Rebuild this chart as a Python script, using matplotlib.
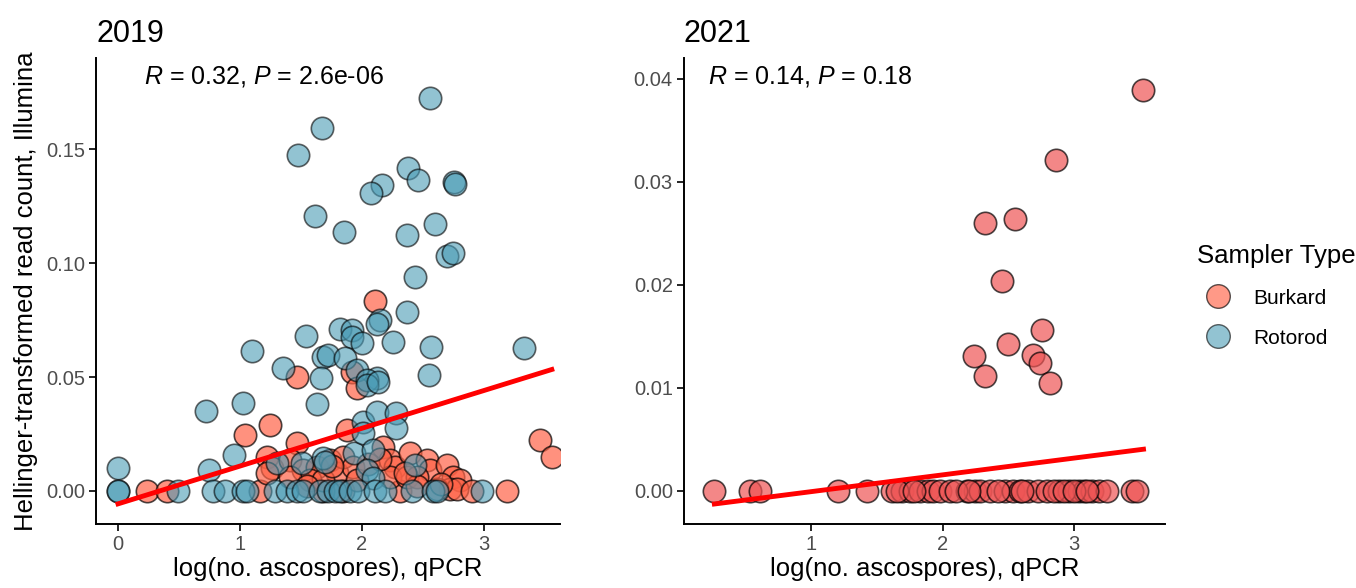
import matplotlib
matplotlib.use('Agg')
import matplotlib.pyplot as plt
from matplotlib.lines import Line2D

plt.rcParams['font.family'] = ['Liberation Sans', 'DejaVu Sans']
plt.rcParams['mathtext.fontset'] = 'custom'
plt.rcParams['mathtext.rm'] = 'Liberation Sans'
plt.rcParams['mathtext.it'] = 'Liberation Sans:italic'

# ---- 2019 panel ----
rot19_x = [2.56, 1.675, 1.475, 2.374, 2.461, 2.16, 2.074, 2.75, 2.76, 1.617,
           1.852, 2.366, 2.598, 2.694, 2.748, 2.434, 2.371, 2.148, 2.12, 1.541,
           1.82, 1.915, 1.915, 1.997, 2.25, 2.563, 3.33, 1.10, 1.35, 1.683,
           1.724, 1.86, 1.66, 1.956, 2.125, 2.04, 2.55,
           0.0, 0.721, 1.027, 1.634, 0.953, 0.746, 1.30, 1.505, 1.68, 1.70,
           1.93, 2.01, 2.01, 2.12, 2.28, 2.28, 2.09, 2.04, 2.09, 2.434,
           2.04, 2.13,
           0.0, 0.0, 0.495, 0.781, 0.877, 1.027, 1.055, 1.287, 1.383, 1.464,
           1.519, 1.656, 1.724, 1.779, 1.820, 1.902, 1.970, 2.107, 2.189,
           2.407, 2.585, 2.612, 2.981]
rot19_y = [0.1727, 0.1594, 0.1477, 0.1418, 0.1367, 0.1345, 0.1306, 0.1357, 0.1346, 0.1206,
           0.1135, 0.1123, 0.117, 0.1031, 0.1045, 0.094, 0.0786, 0.075, 0.0732, 0.068,
           0.0713, 0.0706, 0.0674, 0.0648, 0.0655, 0.063, 0.0629, 0.0614, 0.0541, 0.0589,
           0.0596, 0.0582, 0.0494, 0.0531, 0.0494, 0.0487, 0.0509,
           0.0100, 0.0351, 0.0387, 0.038, 0.0158, 0.0092, 0.0121, 0.0121, 0.0143, 0.0129,
           0.0165, 0.0304, 0.0253, 0.0348, 0.0341, 0.0275, 0.018, 0.0092, 0.0056, 0.0114,
           0.0465, 0.048,
           0.0, 0.0, 0.0, 0.0, 0.0, 0.0, 0.0, 0.0, 0.0, 0.0,
           0.0, 0.0, 0.0, 0.0, 0.0, 0.0, 0.0, 0.0, 0.0,
           0.0, 0.0, 0.0, 0.0]

burk19_x = [2.107, 1.465, 1.915, 0.235, 0.399, 1.041, 1.246, 1.465, 1.874, 1.956,
            3.459, 3.555, 3.186,
            1.219, 1.259, 1.41, 1.519, 1.628, 1.738, 1.792, 1.847, 1.929, 2.175,
            2.23, 2.27, 2.393, 2.53, 2.557, 2.694, 2.748, 2.803, 2.72, 2.776,
            2.612, 2.31, 1.847, 1.683, 1.164, 1.574, 1.683, 1.957, 2.23, 2.366,
            2.448, 1.219, 1.41, 2.05, 2.15, 2.45, 2.65, 1.55, 1.75, 2.35, 2.9]
burk19_y = [0.0835, 0.0501, 0.0523, 0.0, 0.0, 0.0246, 0.029, 0.0209, 0.0268, 0.045,
            0.0224, 0.015, 0.0,
            0.0150, 0.0100, 0.0136, 0.0092, 0.0107, 0.0136, 0.0078, 0.0150, 0.0107, 0.0194,
            0.0136, 0.0107, 0.0165, 0.0136, 0.0092, 0.0114, 0.0063, 0.0048, 0.001, 0.001,
            0.001, 0.0, 0.0, 0.0, 0.0, 0.0048, 0.0048, 0.0048, 0.0063, 0.0063,
            0.0063, 0.0078, 0.0063, 0.012, 0.014, 0.002, 0.003, 0.002, 0.011, 0.008, 0.0]

fit19 = (-0.0057, 0.0166)   # intercept, slope
fit19_range = (0.0, 3.555)

# ---- 2021 panel ----
burk21_x = [3.527, 2.863, 2.321, 2.551, 2.452, 2.757, 2.5, 2.242, 2.323, 2.69,
            2.741, 2.817,
            0.265, 0.536, 0.612, 1.208, 1.424, 1.614, 1.690, 1.753, 1.829, 1.892,
            1.930, 1.981, 2.057, 2.184, 2.247, 2.285, 2.361, 2.475, 2.538, 2.589,
            2.652, 2.728, 2.792, 2.881, 2.957, 3.033, 3.071, 3.135, 3.185, 3.249,
            3.439, 3.48, 1.65, 1.78, 2.1, 2.2, 2.42, 2.6, 2.85, 2.92, 3.0, 3.1]
burk21_y = [0.0389, 0.0321, 0.026, 0.0264, 0.0204, 0.0156, 0.0143, 0.0131, 0.0112, 0.0132,
            0.0124, 0.0105] + [0.0] * 42

fit21 = (-0.0017, 0.00163)
fit21_range = (0.265, 3.527)

fig = plt.figure(figsize=(13.56, 5.88), dpi=100)
ax1 = fig.add_axes([0.0708, 0.109, 0.342, 0.792])
ax2 = fig.add_axes([0.5044, 0.109, 0.3547, 0.792])

burk_col = '#FF6347'
burk21_col = '#EE5555'
rot_col = '#4A9BB5'
edge = (0, 0, 0, 0.75)
size = 260


def style(ax):
    for s in ['top', 'right']:
        ax.spines[s].set_visible(False)
    for s in ['left', 'bottom']:
        ax.spines[s].set_linewidth(1.4)
    ax.tick_params(labelsize=14.5, labelcolor='#4D4D4D', length=5, width=1.2,
                   color='black', pad=3)
    ax.set_xlabel('log(no. ascospores), qPCR', fontsize=18.5, labelpad=2)


# 2019
ax1.scatter(burk19_x, burk19_y, s=size, c=burk_col, alpha=0.7,
            edgecolors=edge, linewidths=1.2, zorder=2)
ax1.scatter(rot19_x, rot19_y, s=size, c=rot_col, alpha=0.6,
            edgecolors=edge, linewidths=1.2, zorder=3)
xs = list(fit19_range)
ax1.plot(xs, [fit19[0] + fit19[1] * v for v in xs], color='red', lw=3.5, zorder=4)
ax1.set_xlim(-0.18, 3.62)
ax1.set_ylim(-0.0145, 0.19)
ax1.set_xticks([0, 1, 2, 3])
ax1.set_yticks([0.0, 0.05, 0.10, 0.15])
ax1.set_yticklabels(['0.00', '0.05', '0.10', '0.15'])
style(ax1)
ax1.set_ylabel('Hellinger-transformed read count, Illumina', fontsize=18.5,
               labelpad=6)
ax1.set_title('2019', loc='left', fontsize=22, pad=12)
ax1.text(0.103, 0.96, '$R$ = 0.32, $P$ = 2.6e-06', transform=ax1.transAxes,
         fontsize=18, va='center', ha='left')

# 2021
ax2.scatter(burk21_x, burk21_y, s=size, c=burk21_col, alpha=0.7,
            edgecolors=edge, linewidths=1.2, zorder=2)
xs = list(fit21_range)
ax2.plot(xs, [fit21[0] + fit21[1] * v for v in xs], color='red', lw=3.5, zorder=4)
ax2.set_xlim(0.034, 3.69)
ax2.set_ylim(-0.0032, 0.042)
ax2.set_xticks([1, 2, 3])
ax2.set_yticks([0.0, 0.01, 0.02, 0.03, 0.04])
ax2.set_yticklabels(['0.00', '0.01', '0.02', '0.03', '0.04'])
style(ax2)
ax2.set_title('2021', loc='left', fontsize=22, pad=12)
ax2.text(0.05, 0.96, '$R$ = 0.14, $P$ = 0.18', transform=ax2.transAxes,
         fontsize=18, va='center', ha='left')

# legend
handles = [Line2D([], [], marker='o', ls='', ms=17, markerfacecolor=burk_col,
                  alpha=0.65, markeredgecolor='black', label='Burkard'),
           Line2D([], [], marker='o', ls='', ms=17, markerfacecolor=rot_col,
                  alpha=0.6, markeredgecolor='black', label='Rotorod')]
leg = fig.legend(handles=handles, title='Sampler Type', loc='upper left',
                 bbox_to_anchor=(0.872, 0.61), frameon=False, fontsize=15,
                 title_fontsize=18.5, handletextpad=0.7, labelspacing=1.0,
                 borderpad=0.2)
leg._legend_box.align = 'left'

fig.savefig('out.png', dpi=100)
